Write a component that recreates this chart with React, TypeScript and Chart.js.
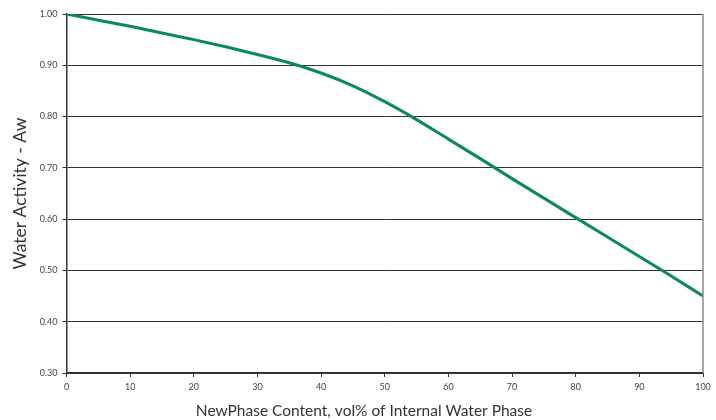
import React, { useEffect, useRef } from "react";
import { Chart, registerables } from "chart.js";

Chart.register(...registerables);

const xValues = [0, 5, 10, 15, 20, 25, 30, 35, 40, 45, 50, 55, 60, 65, 70, 75, 80, 85, 90, 95, 100];
const waterActivity = [1.0, 0.988, 0.976, 0.963, 0.95, 0.936, 0.921, 0.905, 0.885, 0.86, 0.829, 0.794, 0.756, 0.718, 0.679, 0.641, 0.603, 0.565, 0.527, 0.489, 0.45];
const xTicks = [0, 10, 20, 30, 40, 50, 60, 70, 80, 90, 100];
const yTicks = [0.3, 0.4, 0.5, 0.6, 0.7, 0.8, 0.9, 1.0];
const xTitle = "NewPhase Content, vol% of Internal Water Phase";
const yTitle = "Water Activity - Aw";

const FONT = "Lato, 'Open Sans', sans-serif";

export default function App() {
  const ref = useRef<HTMLCanvasElement | null>(null);

  useEffect(() => {
    document.body.style.margin = "0";
    const canvas = ref.current;
    if (!canvas) return;

    const extras = {
      id: "extras",
      afterDraw(chart: any) {
        const { ctx, chartArea } = chart;
        ctx.save();
        ctx.strokeStyle = "#8a8a8a";
        ctx.lineWidth = 1.5;
        ctx.beginPath();
        ctx.moveTo(chartArea.right, chartArea.top);
        ctx.lineTo(chartArea.right, chartArea.bottom);
        ctx.stroke();
        ctx.fillStyle = "#333";
        ctx.font = "15.5px " + FONT;
        ctx.textAlign = "center";
        ctx.textBaseline = "middle";
        ctx.fillText(xTitle, 364, 411);
        ctx.restore();
      },
    };

    const chart = new Chart(canvas, {
      type: "line",
      data: {
        datasets: [
          {
            data: xValues.map((x, i) => ({ x, y: waterActivity[i] })),
            borderColor: "#0b8a58",
            borderWidth: 3,
            pointRadius: 0,
            tension: 0.4,
            cubicInterpolationMode: "monotone",
            fill: false,
          },
        ],
      },
      options: {
        animation: false,
        responsive: false,
        maintainAspectRatio: false,
        layout: { padding: { top: 14, right: 13, left: 0, bottom: 0 } },
        plugins: { legend: { display: false }, tooltip: { enabled: false } },
        scales: {
          x: {
            type: "linear",
            min: 0,
            max: 100,
            afterBuildTicks: (scale: any) => {
              scale.ticks = xTicks.map((v) => ({ value: v }));
            },
            afterFit: (scale: any) => {
              scale.height = 47;
            },
            grid: {
              drawOnChartArea: false,
              drawTicks: true,
              tickLength: 4,
              color: "#333",
              lineWidth: 1,
            },
            border: { color: "#333", width: 1.5 },
            ticks: {
              color: "#444",
              font: { family: FONT, size: 9 },
              padding: 5,
              maxRotation: 0,
              callback: (v: any) => String(v),
            },
            title: { display: false },
          },
          y: {
            type: "linear",
            min: 0.3,
            max: 1.0,
            afterBuildTicks: (scale: any) => {
              scale.ticks = yTicks.map((v) => ({ value: v }));
            },
            afterFit: (scale: any) => {
              scale.width = 66.5;
            },
            grid: {
              drawTicks: true,
              tickLength: 4,
              color: "#333",
              lineWidth: 1,
            },
            border: { color: "#333", width: 1.5 },
            ticks: {
              color: "#444",
              font: { family: FONT, size: 9 },
              padding: 5,
              callback: (v: any) => Number(v).toFixed(2),
            },
            title: {
              display: true,
              text: yTitle,
              color: "#333",
              font: { family: FONT, size: 17.5 },
              padding: { top: 10, bottom: 0 },
            },
          },
        },
      },
      plugins: [extras],
    } as any);

    return () => chart.destroy();
  }, []);

  return (
    <div style={{ width: 716, height: 420 }}>
      <canvas ref={ref} width={716} height={420} style={{ display: "block" }} />
    </div>
  );
}
